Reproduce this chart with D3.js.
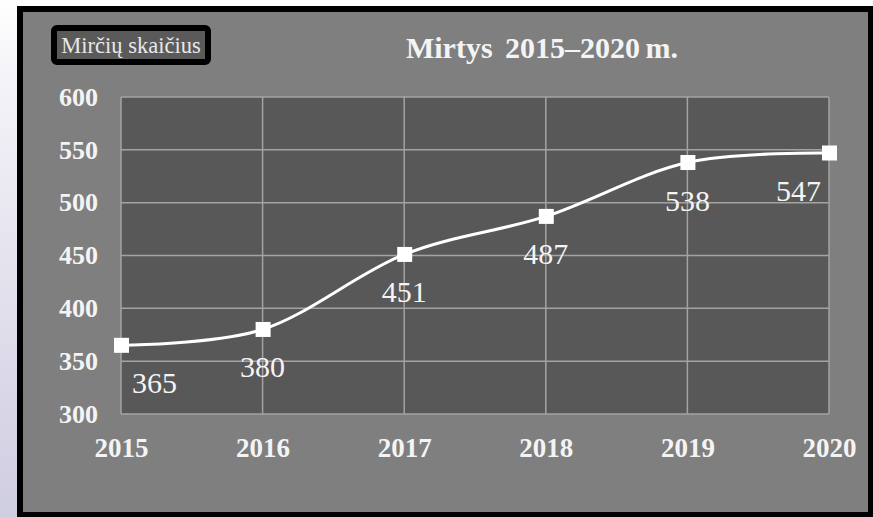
<!DOCTYPE html>
<html>
<head>
<meta charset="utf-8">
<script src="https://cdn.jsdelivr.net/npm/d3@7"></script>
<style>
  html, body { margin: 0; padding: 0; background: #ffffff; }
  svg { display: block; }
</style>
</head>
<body>
<svg id="chart" width="873" height="517"></svg>
<script>
const years = [2015, 2016, 2017, 2018, 2019, 2020];
const deaths = [365, 380, 451, 487, 538, 547];
const yTicks = [300, 350, 400, 450, 500, 550, 600];
const titleParts = ["Mirtys", "2015–2020", "m."];
const legendText = "Mirčių skaičius";

const W = 873, H = 517;
const plot = { left: 121, right: 829, top: 97, bottom: 414 };
const serif = "'Liberation Serif', 'Times New Roman', serif";
const textCol = "#f4f4f4";

const svg = d3.select("#chart");

// left page strip gradient
const defs = svg.append("defs");
const grad = defs.append("linearGradient").attr("id", "strip").attr("x1", 0).attr("y1", 0).attr("x2", 0).attr("y2", 1);
grad.append("stop").attr("offset", "0%").attr("stop-color", "#ffffff");
grad.append("stop").attr("offset", "15%").attr("stop-color", "#f4f3f8");
grad.append("stop").attr("offset", "100%").attr("stop-color", "#cfcde0");
svg.append("rect").attr("x", 0).attr("y", 0).attr("width", 17).attr("height", H).attr("fill", "url(#strip)");

// frame
svg.append("rect").attr("x", 17).attr("y", 6).attr("width", W - 17).attr("height", H - 6).attr("fill", "#000000");
svg.append("rect").attr("x", 23).attr("y", 12).attr("width", 845).attr("height", 500).attr("fill", "#7f7f7f");

const x = d3.scaleLinear().domain([2015, 2020]).range([plot.left, plot.right]);
const y = d3.scaleLinear().domain([300, 600]).range([plot.bottom, plot.top]);

// plot area
svg.append("rect")
  .attr("x", plot.left).attr("y", plot.top)
  .attr("width", plot.right - plot.left).attr("height", plot.bottom - plot.top)
  .attr("fill", "#585858");

const gridCol = "#a3a3a3";
// horizontal grid
svg.append("g").selectAll("line").data(yTicks).join("line")
  .attr("x1", plot.left).attr("x2", plot.right)
  .attr("y1", d => y(d)).attr("y2", d => y(d))
  .attr("stroke", gridCol).attr("stroke-width", 1.5);
// vertical grid
svg.append("g").selectAll("line").data(years).join("line")
  .attr("x1", d => x(d)).attr("x2", d => x(d))
  .attr("y1", plot.top).attr("y2", plot.bottom)
  .attr("stroke", gridCol).attr("stroke-width", 1.5);

// Y axis
const yAxis = d3.axisLeft(y).tickValues(yTicks).tickSize(0).tickPadding(23).tickFormat(d3.format("d"));
const gy = svg.append("g").attr("transform", `translate(${plot.left},0)`).call(yAxis);
gy.select(".domain").remove();
gy.selectAll("text")
  .attr("fill", textCol).attr("font-family", serif).attr("font-weight", "bold").attr("font-size", "26px");

// X axis
const xAxis = d3.axisBottom(x).tickValues(years).tickSize(0).tickPadding(24).tickFormat(d3.format("d"));
const gx = svg.append("g").attr("transform", `translate(0,${plot.bottom})`).call(xAxis);
gx.select(".domain").remove();
gx.selectAll("text")
  .attr("fill", textCol).attr("font-family", serif).attr("font-weight", "bold").attr("font-size", "27px");

// line
const pts = years.map((yr, i) => ({ yr, v: deaths[i] }));
const line = d3.line().x(d => x(d.yr)).y(d => y(d.v)).curve(d3.curveCardinal.tension(0));
svg.append("path").datum(pts)
  .attr("d", line).attr("fill", "none")
  .attr("stroke", "#ffffff").attr("stroke-width", 3);

// markers
const ms = 15;
svg.append("g").selectAll("rect").data(pts).join("rect")
  .attr("x", d => x(d.yr) - ms / 2 + 0.5).attr("y", d => y(d.v) - ms / 2)
  .attr("width", ms).attr("height", ms).attr("fill", "#ffffff");

// data labels
const labels = svg.append("g").selectAll("text").data(pts).join("text")
  .attr("font-family", serif).attr("font-size", "30px").attr("fill", textCol)
  .attr("text-anchor", "middle")
  .attr("y", d => y(d.v) + 48)
  .text(d => d.v);
labels.each(function (d) {
  const w = this.getComputedTextLength();
  const cx = Math.max(plot.left + 11 + w / 2, Math.min(plot.right - 8 - w / 2, x(d.yr)));
  d3.select(this).attr("x", cx);
});

// title
const title = svg.append("text")
  .attr("x", 542).attr("y", 58)
  .attr("text-anchor", "middle")
  .attr("font-family", serif).attr("font-weight", "bold").attr("font-size", "30px")
  .attr("fill", textCol);
title.append("tspan").text(titleParts[0]);
title.append("tspan").attr("dx", 5).text(" " + titleParts[1]);
title.append("tspan").attr("dx", -2).text(" " + titleParts[2]);

// legend box
svg.append("rect")
  .attr("x", 54).attr("y", 28).attr("width", 154).attr("height", 34)
  .attr("rx", 3).attr("fill", "#5a5a5a").attr("stroke", "#000000").attr("stroke-width", 6);
svg.append("text")
  .attr("x", 131).attr("y", 53)
  .attr("text-anchor", "middle")
  .attr("font-family", serif).attr("font-size", "22.5px").attr("fill", "#e8e8e8")
  .text(legendText);
</script>
</body>
</html>
